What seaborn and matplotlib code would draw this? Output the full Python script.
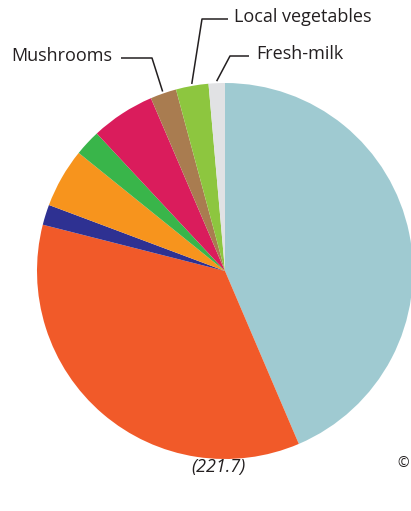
import numpy as np
import matplotlib
matplotlib.use("Agg")
import matplotlib.pyplot as plt
import seaborn as sns

# share of each source, clockwise from 12 o'clock
sources = ["Other A", "Other B", "Other C", "Other D", "Other E", "Other F",
           "Mushrooms", "Local vegetables", "Fresh-milk"]
shares = [43.6, 35.4, 1.75, 5.1, 2.25, 5.5, 2.25, 2.8, 1.4]
colors = ["#9fcad1", "#f15a29", "#2e3192", "#f7941d", "#39b54a", "#da1c5c",
          "#a97c50", "#8dc63f", "#e1e2e4"]
labelled = ["Mushrooms", "Local vegetables", "Fresh-milk"]
total_text = "(221.7)"

sns.set_theme(style="white")
plt.rcParams['font.family'] = ['Open Sans', 'DejaVu Sans']

W, H = 411, 511
fig = plt.figure(figsize=(W / 100, H / 100), dpi=100)
ax = fig.add_axes([0, 0, 1, 1])

cx, cy, r = 225, H - 271, 188
wedges, _ = ax.pie(shares, colors=sns.color_palette(colors), startangle=90,
                   counterclock=False, center=(cx, cy), radius=r,
                   wedgeprops=dict(linewidth=0))
ax.set_xlim(0, W)
ax.set_ylim(0, H)
ax.set_aspect('equal')
ax.axis('off')

# label layout: (text x, text y, knee x, line end x) in pixels from top-left
layout = {
    "Mushrooms": (11, 56, 152, 121),
    "Local vegetables": (234, 17, 202, 228),
    "Fresh-milk": (256, 54, 230, 249),
}
ink = "#231f20"
for w, name in zip(wedges, sources):
    if name not in labelled:
        continue
    tx, ty, kx, ex = layout[name]
    mid = np.deg2rad((w.theta1 + w.theta2) / 2)
    px = cx + (r + 2) * np.cos(mid)
    py = cy + (r + 2) * np.sin(mid)
    ly = H - ty - 2
    ax.plot([ex, kx, px], [ly, ly, py], color=ink, lw=1.1,
            solid_capstyle='butt', clip_on=False)
    ax.text(tx, H - ty, name, ha='left', va='center', fontsize=13, color=ink)

ax.text(218, H - 467, total_text, ha='center', va='center', fontsize=13,
        style='italic', color=ink)
ax.text(397, H - 463, "©", ha='left', va='center', fontsize=10, color=ink)

fig.savefig("out.png", dpi=100)
